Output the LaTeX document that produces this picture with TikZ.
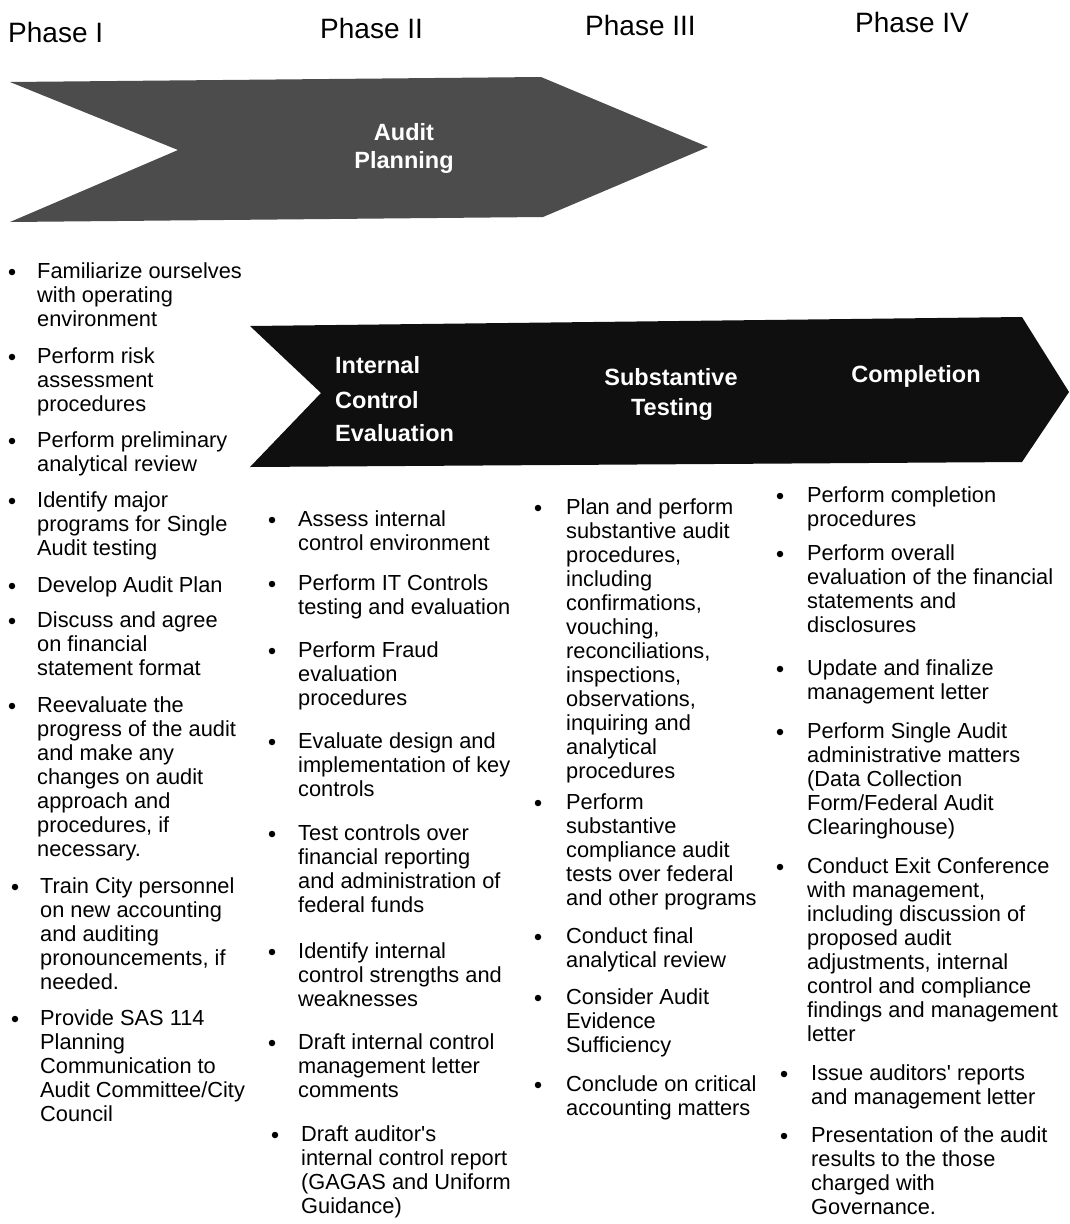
\documentclass[tikz,border=0pt]{standalone}
\usepackage{fontspec}
\setmainfont{Liberation Sans}
\tikzset{
  bul/.style={circle,fill=black,inner sep=0pt,minimum size=6.5pt},
  ln/.style={anchor=base west,inner sep=0pt,font=\fontsize{21.8}{24}\selectfont},
  phase/.style={anchor=base west,inner sep=0pt,font=\fontsize{28}{32}\selectfont},
  atext/.style={inner sep=0pt,text=white,font=\bfseries\fontsize{23.5}{26}\selectfont},
  arrowA/.style={fill=black!70},
  arrowB/.style={fill=black!94}
}
\newcommand\blist[5]{%
  \node[bul] (#1) at (#2,#4+1) {};
  \foreach \ltext [count=\i] in {#5} {
    \node[ln] (#1-\i) at (#3,{#4+7+24*(\i-1)}) {\ltext};
  }%
}
\begin{document}
\begin{tikzpicture}[x=1pt,y=-1pt]
\fill[white] (0,0) rectangle (1069,1224);
\useasboundingbox (0,0) rectangle (1069,1224);

% phase headings
\node[phase] (p1) at (8,42) {Phase I};
\node[phase] (p2) at (320,38) {Phase II};
\node[phase] (p3) at (585,35) {Phase III};
\node[phase] (p4) at (855,32) {Phase IV};

% arrows
\fill[arrowA] (10,82) -- (541,77) -- (708,147) -- (543,217) -- (10,222) -- (178,150) -- cycle;
\node[atext,anchor=base] (ap1) at (404,140) {Audit};
\node[atext,anchor=base] (ap2) at (404,168) {Planning};

\fill[arrowB] (250,326) -- (1022,317) -- (1069,392) -- (1022,462) -- (250,467) -- (321,393) -- cycle;
\node[atext,anchor=base west] (ic1) at (335,373) {Internal};
\node[atext,anchor=base west] (ic2) at (335,408) {Control};
\node[atext,anchor=base west] (ic3) at (335,441) {Evaluation};
\node[atext,anchor=base] (st1) at (671,385) {Substantive};
\node[atext,anchor=base] (st2) at (672,415) {Testing};
\node[atext,anchor=base] (cp1) at (916,382) {Completion};

% column 1
\blist{a1}{12}{37}{271}{Familiarize ourselves,with operating,environment}
\blist{a2}{12}{37}{356}{Perform risk,assessment,procedures}
\blist{a3}{12}{37}{440}{Perform preliminary,analytical review}
\blist{a4}{12}{37}{500}{Identify major,programs for Single,Audit testing}
\blist{a5}{12}{37}{585}{Develop Audit Plan}
\blist{a6}{12}{37}{620}{Discuss and agree,on financial,statement format}
\blist{a7}{12}{37}{705}{Reevaluate the,progress of the audit,and make any,changes on audit,approach and,{procedures, if},necessary.}
\blist{a8}{15}{40}{886}{Train City personnel,on new accounting,and auditing,{pronouncements, if},needed.}
\blist{a9}{15}{40}{1018}{Provide SAS 114,Planning,Communication to,{Audit Committee/City},Council}

% column 2
\blist{b1}{272}{298}{519}{Assess internal,control environment}
\blist{b2}{272}{298}{583}{Perform IT Controls,testing and evaluation}
\blist{b3}{272}{298}{650}{Perform Fraud,evaluation,procedures}
\blist{b4}{272}{298}{741}{Evaluate design and,implementation of key,controls}
\blist{b5}{272}{298}{833}{Test controls over,financial reporting,and administration of,federal funds}
\blist{b6}{272}{298}{951}{Identify internal,control strengths and,weaknesses}
\blist{b7}{272}{298}{1042}{Draft internal control,management letter,comments}
\blist{b8}{275}{301}{1134}{Draft auditor\textquotesingle s,internal control report,{(GAGAS and Uniform},Guidance)}

% column 3
\blist{c1}{538}{566}{507}{Plan and perform,substantive audit,{procedures,},including,{confirmations,},{vouching,},{reconciliations,},{inspections,},{observations,},inquiring and,analytical,procedures}
\blist{c2}{538}{566}{802}{Perform,substantive,compliance audit,tests over federal,and other programs}
\blist{c3}{538}{566}{936}{Conduct final,analytical review}
\blist{c4}{538}{566}{997}{Consider Audit,Evidence,Sufficiency}
\blist{c5}{538}{566}{1084}{Conclude on critical,accounting matters}

% column 4
\blist{d1}{780}{807}{495}{Perform completion,procedures}
\blist{d2}{780}{807}{553}{Perform overall,evaluation of the financial,statements and,disclosures}
\blist{d3}{780}{807}{668}{Update and finalize,management letter}
\blist{d4}{780}{807}{731}{Perform Single Audit,administrative matters,{(Data Collection},{Form/Federal Audit},Clearinghouse)}
\blist{d5}{780}{807}{866}{Conduct Exit Conference,{with management,},including discussion of,proposed audit,{adjustments, internal},control and compliance,findings and management,letter}
\blist{d6}{784}{811}{1073}{Issue auditors\textquotesingle\ reports,and management letter}
\blist{d7}{784}{811}{1135}{Presentation of the audit,results to the those,charged with,Governance.}
\end{tikzpicture}
\end{document}
